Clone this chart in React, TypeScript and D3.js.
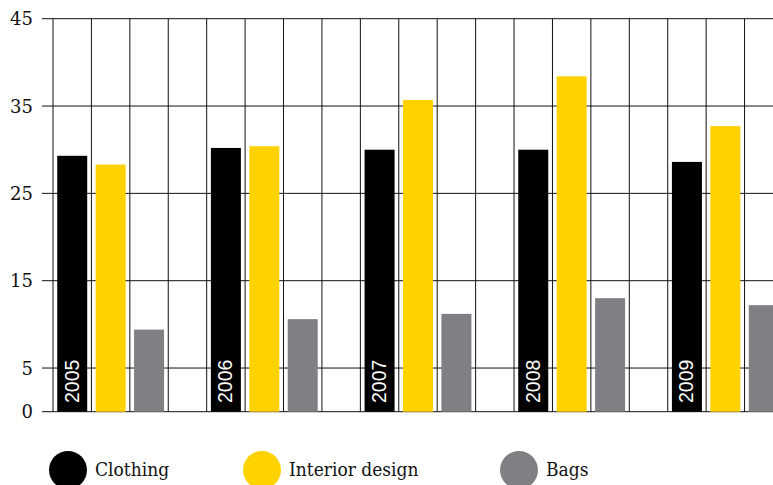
import React from "react";
import * as d3 from "d3";

const years = ["2005", "2006", "2007", "2008", "2009"];
const seriesNames = ["Clothing", "Interior design", "Bags"];
const clothing = [29.3, 30.2, 30.0, 30.0, 28.6];
const interior = [28.3, 30.4, 35.7, 38.4, 32.7];
const bags = [9.4, 10.6, 11.2, 13.0, 12.2];
const yTicks = [0, 5, 15, 25, 35, 45];
const colors = ["#000000", "#ffd200", "#807f83"];

const W = 773;
const H = 485;

export default function App() {
  const series = [clothing, interior, bags];
  const slotsPerYear = 4;
  const slotIds = d3.range(years.length * slotsPerYear);
  const x = d3.scaleBand<number>().domain(slotIds).range([53, 53 + 20 * 38.42]).padding(0);
  const bw = x.bandwidth();
  const barW = 30;
  const y = d3.scaleLinear().domain([0, 45]).range([411.7, 18.7]);
  const gridRight = W;
  const boundaries = d3.range(slotIds.length + 1).map((i) => 53 + i * bw);
  const serifFont = "'DejaVu Serif', serif";
  const legendFont = "'DejaVu Serif Condensed', 'DejaVu Serif', serif";
  const legendX = [68, 262, 519];

  return (
    <svg width={W} height={H} style={{ position: "absolute", left: 0, top: 0, background: "#fff" }}>
      <g>
        {yTicks.map((t) => (
          <g key={t}>
            <line x1={42} x2={gridRight} y1={y(t)} y2={y(t)} stroke="#111" strokeWidth={1} />
            <text x={33} y={y(t)} dy="0.36em" textAnchor="end" fontFamily={serifFont} fontSize={18} fill="#111">
              {t}
            </text>
          </g>
        ))}
        {boundaries
          .filter((b) => b <= W)
          .map((b, i) => (
            <line key={i} x1={b} x2={b} y1={y(45)} y2={y(0)} stroke="#111" strokeWidth={1} />
          ))}
      </g>
      <g>
        {years.map((yr, yi) =>
          series.map((s, si) => {
            const slot = yi * slotsPerYear + si;
            const bx = (x(slot) as number) + (bw - barW) / 2;
            return (
              <rect key={yr + si} x={bx} y={y(s[yi])} width={barW} height={y(0) - y(s[yi])} fill={colors[si]} />
            );
          })
        )}
        {years.map((yr, yi) => {
          const slot = yi * slotsPerYear;
          const cx = (x(slot) as number) + bw / 2;
          return (
            <text
              key={yr}
              transform={`translate(${cx + 6.5},${403}) rotate(-90)`}
              fill="#fff"
              fontFamily="Arial, 'Liberation Sans', sans-serif"
              fontWeight={500}
              fontSize={19.5}
            >
              {yr}
            </text>
          );
        })}
      </g>
      <g>
        {seriesNames.map((n, i) => (
          <g key={n}>
            <circle cx={legendX[i]} cy={470} r={19} fill={colors[i]} />
            <text x={legendX[i] + 27} y={476} fontFamily={legendFont} fontSize={19} fill="#111">
              {n}
            </text>
          </g>
        ))}
      </g>
    </svg>
  );
}
